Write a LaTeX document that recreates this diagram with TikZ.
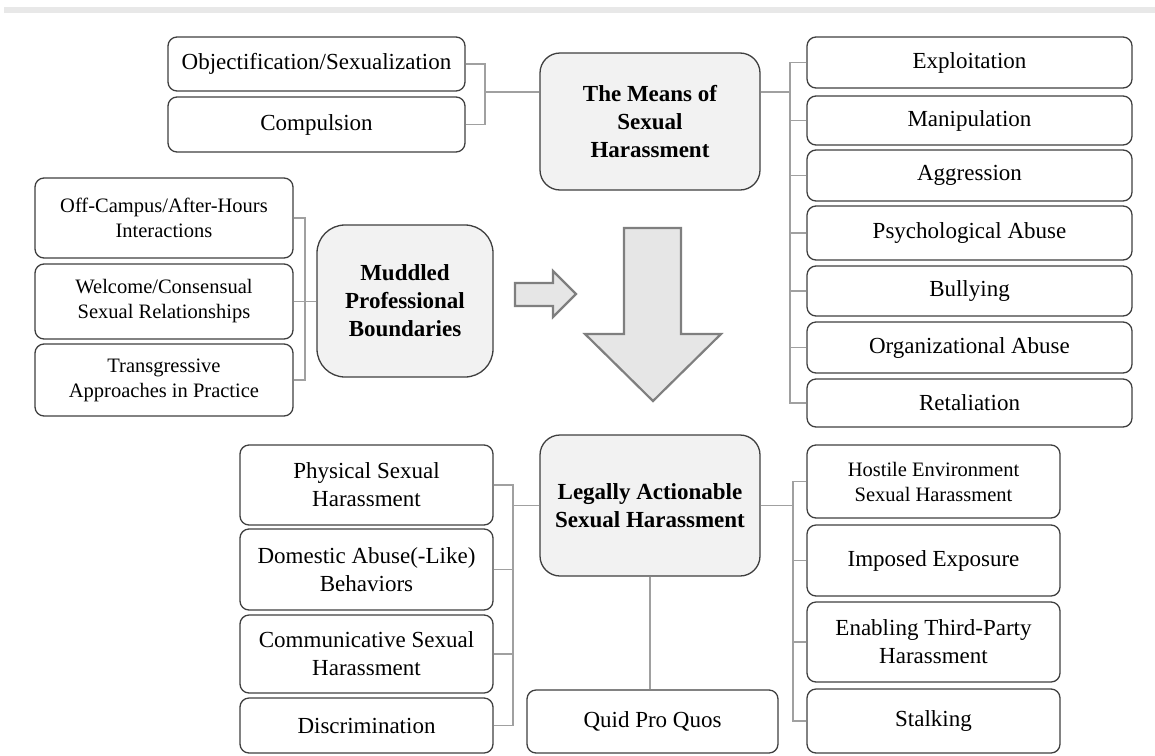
\documentclass[tikz,border=0pt]{standalone}
\usepackage{fontspec}
\setmainfont{Liberation Serif}
\usepackage{tikz}
\usepackage{xcolor}
\definecolor{boxline}{HTML}{3F3F3F}
\definecolor{linkgray}{HTML}{A0A0A0}
\definecolor{hubfill}{HTML}{F2F2F2}
\definecolor{arrowfill}{HTML}{E6E6E6}
\definecolor{arrowline}{HTML}{7F7F7F}
\definecolor{topbar}{HTML}{E8E8E8}

\begin{document}
\begin{tikzpicture}[x=1pt,y=-1pt,
  item/.style={draw=boxline, line width=1.3pt, rounded corners=9pt, align=center, inner sep=0pt, font=\fontsize{23}{28}\selectfont},
  smallfont/.style={font=\fontsize{20.5}{25}\selectfont},
  hub/.style={item, fill=hubfill, rounded corners=20pt, minimum width=220pt, font=\bfseries\fontsize{23}{28}\selectfont},
  topleft/.style={item, minimum width=297pt},
  topright/.style={item, minimum width=325pt},
  midleft/.style={item, smallfont, minimum width=258pt},
  lowleft/.style={item, minimum width=253pt},
  lowright/.style={item, minimum width=253pt},
  link/.style={draw=linkgray, line width=1.4pt},
  bigarrow/.style={fill=arrowfill, draw=arrowline, line width=2.2pt, line join=miter}]
\useasboundingbox (0,0) rectangle (1155,755);
\fill[topbar] (4,7) rectangle (1155,13);

% the means
\node[hub, minimum height=137pt] (means) at (650,121.5) {The Means of\\Sexual\\Harassment};
\node[topleft, minimum height=54pt] (objc) at (316.5,64) {Objectification/Sexualization};
\node[topleft, minimum height=55pt] (comp) at (316.5,124.5) {Compulsion};
\node[topright, minimum height=51pt] (expl) at (969.5,62.5) {Exploitation};
\node[topright, minimum height=49pt] (mani) at (969.5,120.5) {Manipulation};
\node[topright, minimum height=51pt] (aggr) at (969.5,175.5) {Aggression};
\node[topright, minimum height=54pt] (psych) at (969.5,233) {Psychological Abuse};
\node[topright, minimum height=50pt] (bully) at (969.5,291) {Bullying};
\node[topright, minimum height=51pt] (orga) at (969.5,347.5) {Organizational Abuse};
\node[topright, minimum height=48pt] (retal) at (969.5,403) {Retaliation};

\coordinate (jl) at (485,92);
\draw[link] (objc.east) -| (jl) |- (comp.east);
\draw[link] (jl) -- (jl -| means.west);
\coordinate (jr) at (790,92);
\draw[link] (means.east |- jr) -- (jr);
\draw[link] (expl.west) -| (jr) |- (retal.west);
\draw[link] (mani.west) -- (mani.west -| jr);
\draw[link] (aggr.west) -- (aggr.west -| jr);
\draw[link] (psych.west) -- (psych.west -| jr);
\draw[link] (bully.west) -- (bully.west -| jr);
\draw[link] (orga.west) -- (orga.west -| jr);

% muddled boundaries
\node[hub, rounded corners=28pt, minimum width=176pt, minimum height=152pt] (mudd) at (405,301) {Muddled\\Professional\\Boundaries};
\node[midleft, minimum height=80pt] (offc) at (164,218) {Off-Campus/After-Hours\\Interactions};
\node[midleft, minimum height=75pt] (welc) at (164,301.5) {Welcome/Consensual\\Sexual Relationships};
\node[midleft, minimum height=72pt] (tran) at (164,380) {Transgressive\\Approaches in Practice};

\coordinate (jm) at (305,301);
\draw[link] (offc.east) -| (jm) |- (tran.east);
\draw[link] (welc.east) -- (welc.east -| mudd.west);

\draw[bigarrow] (515,283) -- (553,283) -- (553,271) -- (576,294) -- (553,317) -- (553,306) -- (515,306) -- cycle;
\draw[bigarrow] (624,228) -- (681,228) -- (681,334) -- (721,334) -- (653,401) -- (585,334) -- (624,334) -- cycle;

% legally actionable
\node[hub, minimum height=141pt] (legal) at (650,505.5) {Legally Actionable\\Sexual Harassment};
\node[lowleft, minimum height=80pt] (phys) at (366.5,485) {Physical Sexual\\Harassment};
\node[lowleft, minimum height=81pt] (dome) at (366.5,569.5) {Domestic Abuse(-Like)\\Behaviors};
\node[lowleft, minimum height=78pt] (comm) at (366.5,654) {Communicative Sexual\\Harassment};
\node[lowleft, minimum height=55pt] (disc) at (366.5,725.5) {Discrimination};
\node[lowright, smallfont, minimum height=73pt] (host) at (933.5,481.5) {Hostile Environment\\Sexual Harassment};
\node[lowright, minimum height=71pt] (impo) at (933.5,560.5) {Imposed Exposure};
\node[lowright, minimum height=80pt] (enab) at (933.5,642) {Enabling Third-Party\\Harassment};
\node[lowright, minimum height=64pt] (stalk) at (933.5,721) {Stalking};
\node[item, minimum width=251pt, minimum height=63pt] (quid) at (652.5,721.5) {Quid Pro Quos};

\coordinate (jll) at (513,505.5);
\draw[link] (phys.east) -| (jll) |- (disc.east);
\draw[link] (jll) -- (legal.west);
\draw[link] (dome.east) -- (dome.east -| jll);
\draw[link] (comm.east) -- (comm.east -| jll);
\coordinate (jlr) at (793,505.5);
\draw[link] (host.west) -| (jlr) |- (stalk.west);
\draw[link] (legal.east) -- (jlr);
\draw[link] (impo.west) -- (impo.west -| jlr);
\draw[link] (enab.west) -- (enab.west -| jlr);
\draw[link] (legal.south) -- (legal.south |- quid.north);
\end{tikzpicture}
\end{document}
